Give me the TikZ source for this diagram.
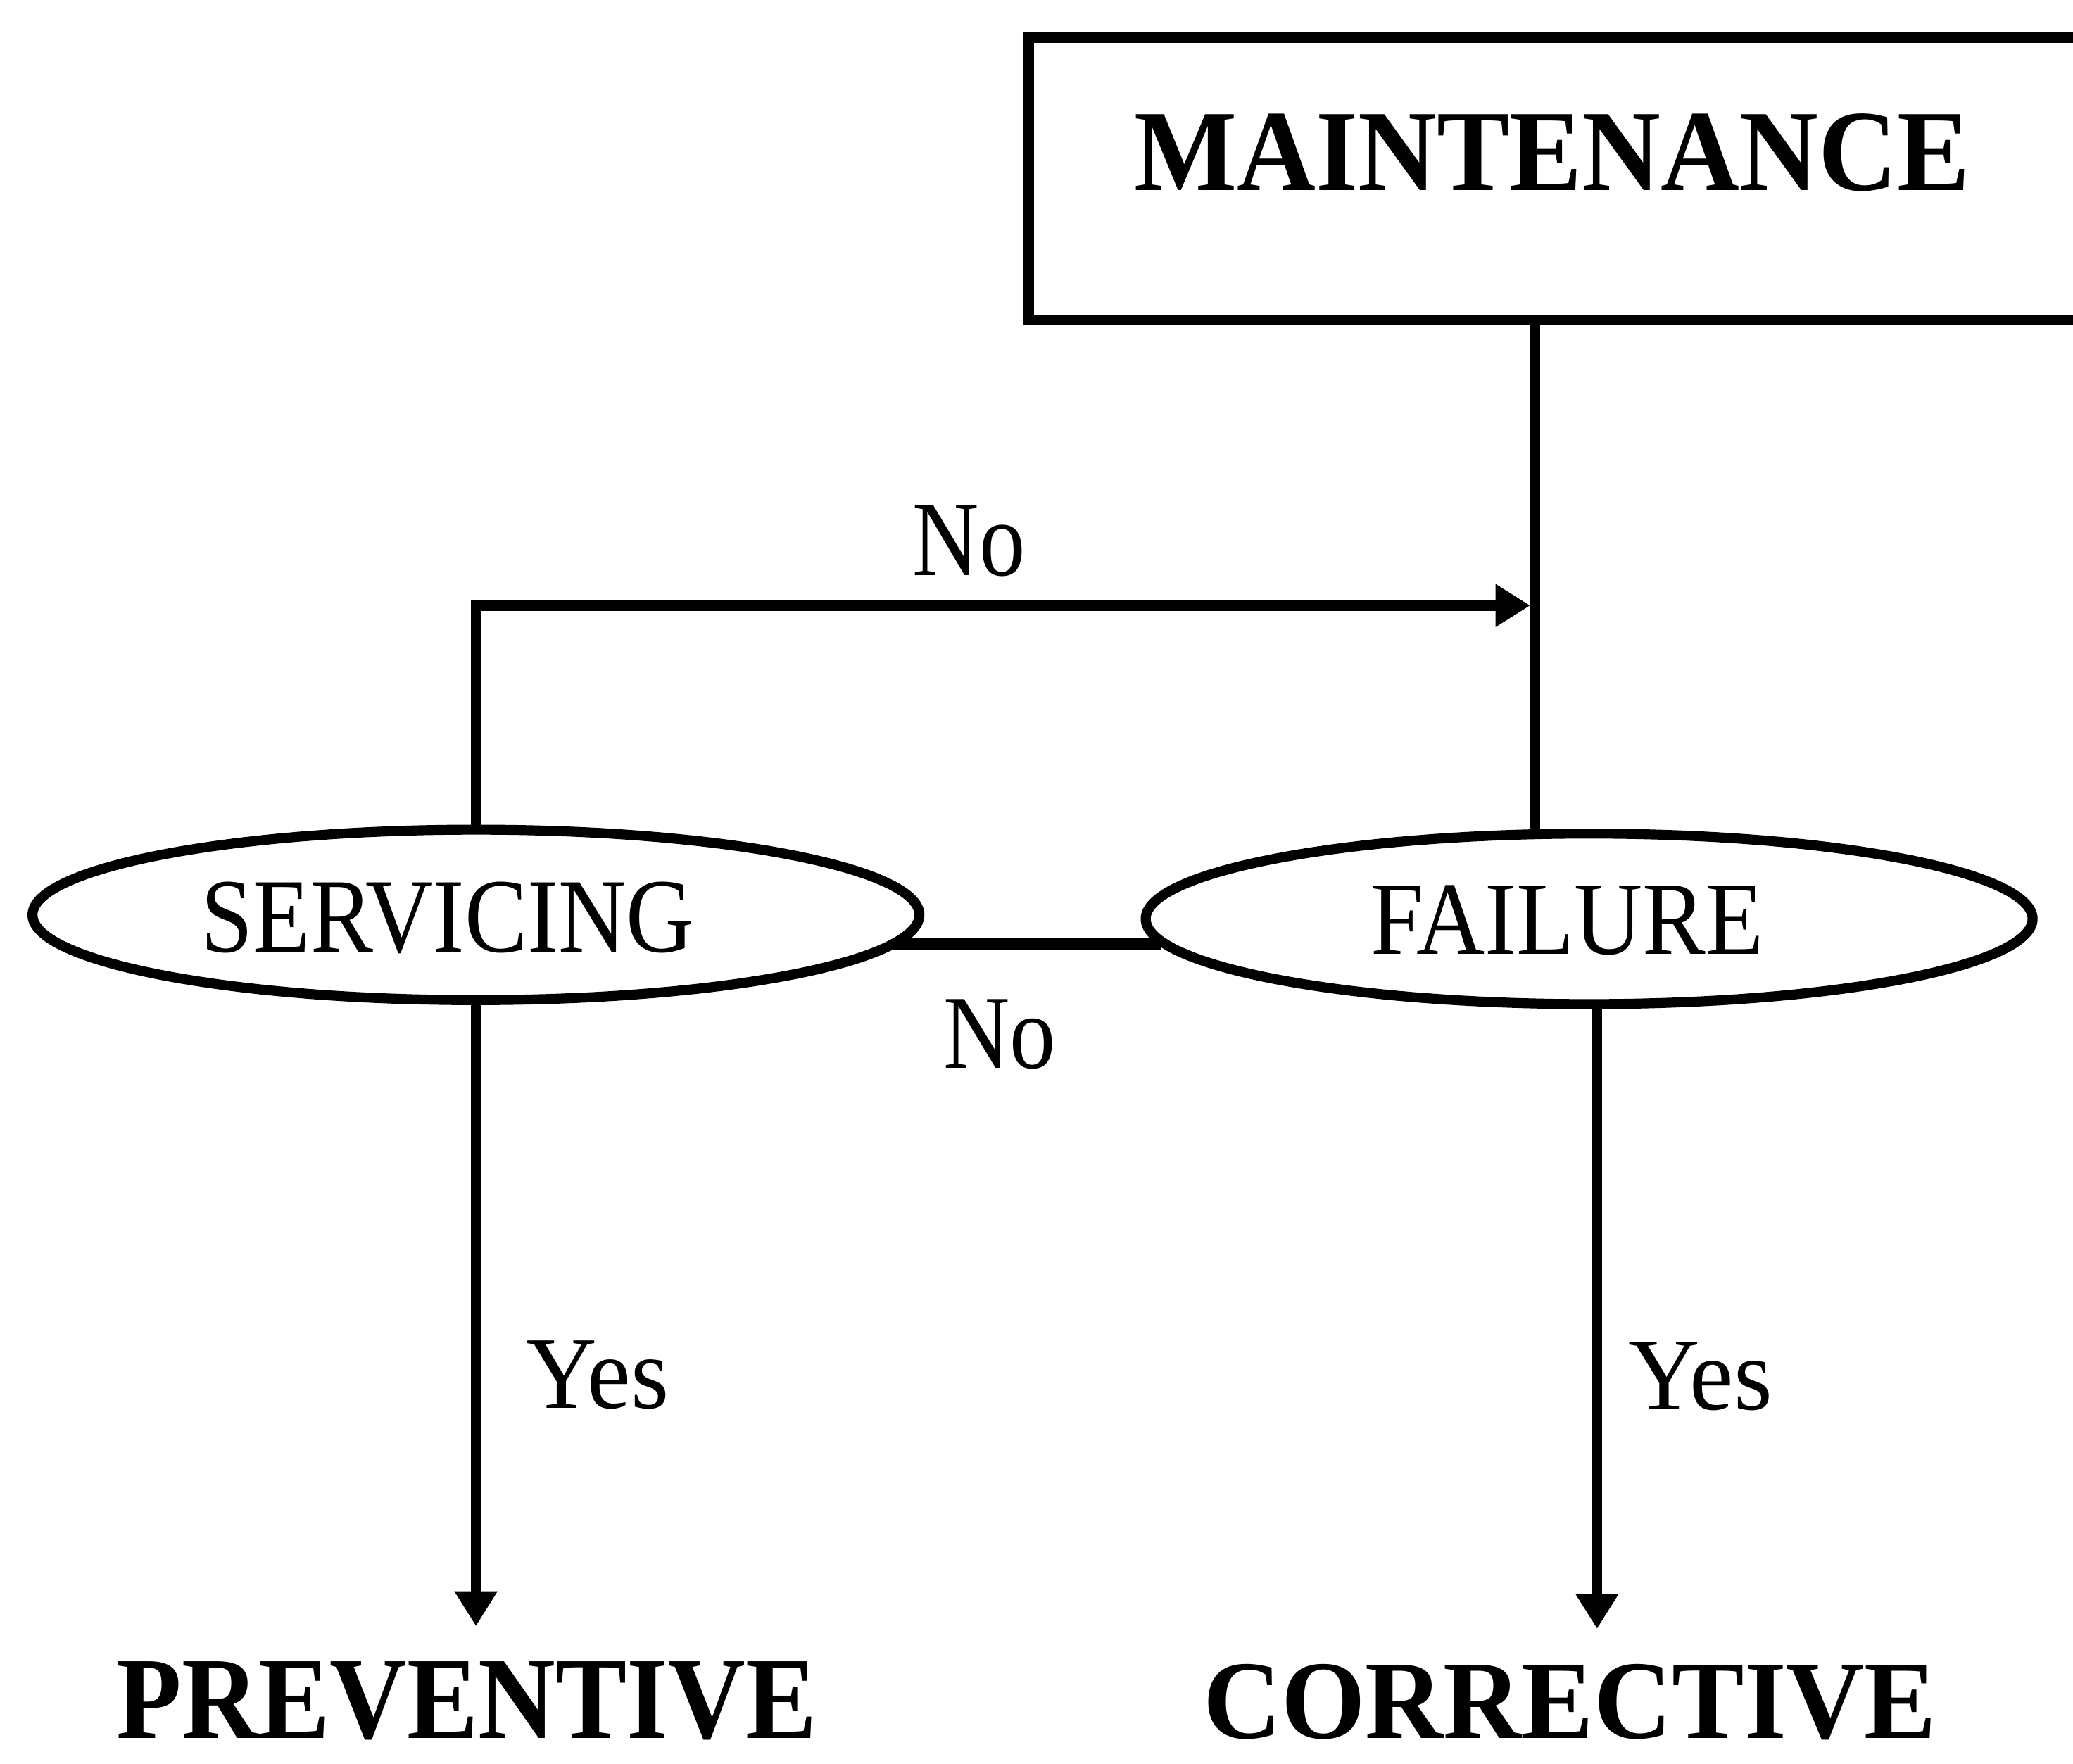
\documentclass[tikz,border=0pt]{standalone}
\usepackage{graphicx}
\usepackage{fontspec}
\setmainfont{Liberation Serif}
\usetikzlibrary{arrows.meta,shapes.geometric}
% one drawing unit
\newlength\px \setlength\px{0.02cm}
% set a word to a given ink width and cap height (in drawing units)
\newcommand\fitword[3]{\resizebox{#1\px}{#2\px}{#3}}

\begin{document}
\begin{tikzpicture}[x=0.02cm,y=-0.02cm,
  lbl/.style={inner sep=0pt, outer sep=0pt, anchor=base},
  oval/.style={draw, ellipse, line width=4.3pt, inner sep=0pt, outer sep=0pt,
               minimum width=13.42cm, minimum height=2.58cm},
  frame/.style={draw, rectangle, line width=4.8pt, inner sep=0pt, outer sep=0pt,
                minimum width=18.44cm, minimum height=4.28cm},
  wire/.style={line width=4.2pt},
  flow/.style={line width=4.2pt, -{Triangle[length=15pt,width=17.5pt]}},
]
\useasboundingbox (0,0) rectangle (1568,1334);
\clip (0,0) rectangle (1568,1334);

% top box (runs off the right edge)
\node[frame] (maint) at (1239,135) {};
\node[lbl] (mtext) at (1174,144) {\fitword{632}{58}{\bfseries MAINTENANCE}};

% decision ovals
\node[oval] (serv) at (360,692) {};
\node[oval] (fail) at (1202,695) {};
\node[lbl] (stext) at (338.5,720) {\fitword{373}{53}{SERVICING}};
\node[lbl] (ftext) at (1185.5,721.5) {\fitword{297}{52}{FAILURE}};

% outcomes
\node[lbl] (prev) at (353,1315) {\fitword{530}{58}{\bfseries PREVENTIVE}};
\node[lbl] (corr) at (1187.5,1315) {\fitword{555}{56}{\bfseries CORRECTIVE}};

% branch labels
\node[lbl] (no1) at (733,435) {\fitword{85}{53}{No}};
\node[lbl] (no2) at (756,808) {\fitword{85}{52}{No}};
\node[lbl] (yes1) at (452,1065) {\fitword{108}{51}{Yes}};
\node[lbl] (yes2) at (1286,1066) {\fitword{109}{51}{Yes}};

% box down to FAILURE
\coordinate (drop) at ([xshift=7.66cm]maint.south west);
\draw[wire] (drop) -- (drop |- fail.north);

% SERVICING "No" loops back to the main line
\coordinate (turn) at (356,458);
\draw[flow, line width=4.6pt] (serv.north) -- (serv.north |- turn)
  -- ([xshift=-2pt]drop |- turn);

% link between the ovals
\draw[line width=5.2pt] (serv.-4.1) -- (serv.-4.1 -| fail.183.5);

% "Yes" outcomes
\draw[flow] (serv.south) -- ++(0,473.5);
\draw[flow] ([xshift=0.12cm]fail.south) -- ++(0,472.5);
\end{tikzpicture}
\end{document}
